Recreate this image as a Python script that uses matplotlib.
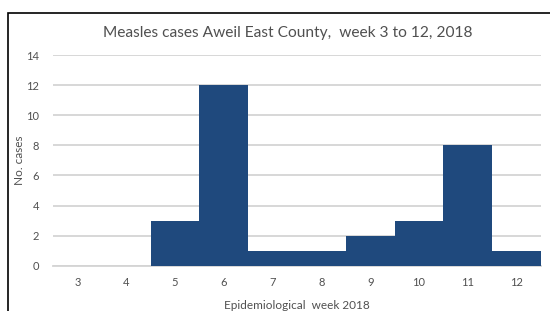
import matplotlib.pyplot as plt
from matplotlib.patches import Rectangle

# Dados
weeks = [3, 4, 5, 6, 7, 8, 9, 10, 11, 12]
cases = [0, 0, 3, 12, 1, 1, 2, 3, 8, 1]
yticks = [0, 2, 4, 6, 8, 10, 12, 14]

bar_color = '#1f497d'
text_color = '#505050'
grid_color = '#d4d4d4'

plt.rcParams['font.family'] = ['Lato', 'DejaVu Sans']

fig = plt.figure(figsize=(5.5, 3.11), dpi=100)
ax = fig.add_axes([53 / 550, 1 - 265.7 / 311, 488 / 550, 210.7 / 311])

# barras sem espaço entre elas
x = list(range(len(weeks)))
ax.bar(x, cases, width=1.0, color=bar_color, zorder=3)

ax.set_xlim(-0.5, len(weeks) - 0.5)
ax.set_ylim(0, 14)
ax.set_xticks(x)
ax.set_xticklabels([str(w) for w in weeks])
ax.set_yticks(yticks)

ax.set_axisbelow(True)
ax.yaxis.grid(True, color=grid_color, linewidth=1.3)
for side in ['top', 'right', 'left']:
    ax.spines[side].set_visible(False)
ax.spines['bottom'].set_color(grid_color)
ax.spines['bottom'].set_linewidth(1.3)
ax.tick_params(axis='both', length=0, labelsize=8, colors=text_color)
ax.tick_params(axis='x', pad=8)
ax.tick_params(axis='y', pad=10)

ax.set_xlabel('Epidemiological  week 2018', fontsize=8.5, color=text_color, labelpad=9)
ax.set_ylabel('No. cases', fontsize=8.5, color=text_color, labelpad=1)
fig.text(0.523, 1 - 33 / 311, 'Measles cases Aweil East County,  week 3 to 12, 2018',
         ha='center', va='center', fontsize=11.2, color=text_color)

# moldura do gráfico
fig.patches.append(Rectangle((8 / 550, -0.01), 1.0, 1 - 13 / 311 + 0.01,
                             transform=fig.transFigure, fill=False,
                             edgecolor='black', linewidth=1.2))

fig.savefig('out.png', dpi=100)
